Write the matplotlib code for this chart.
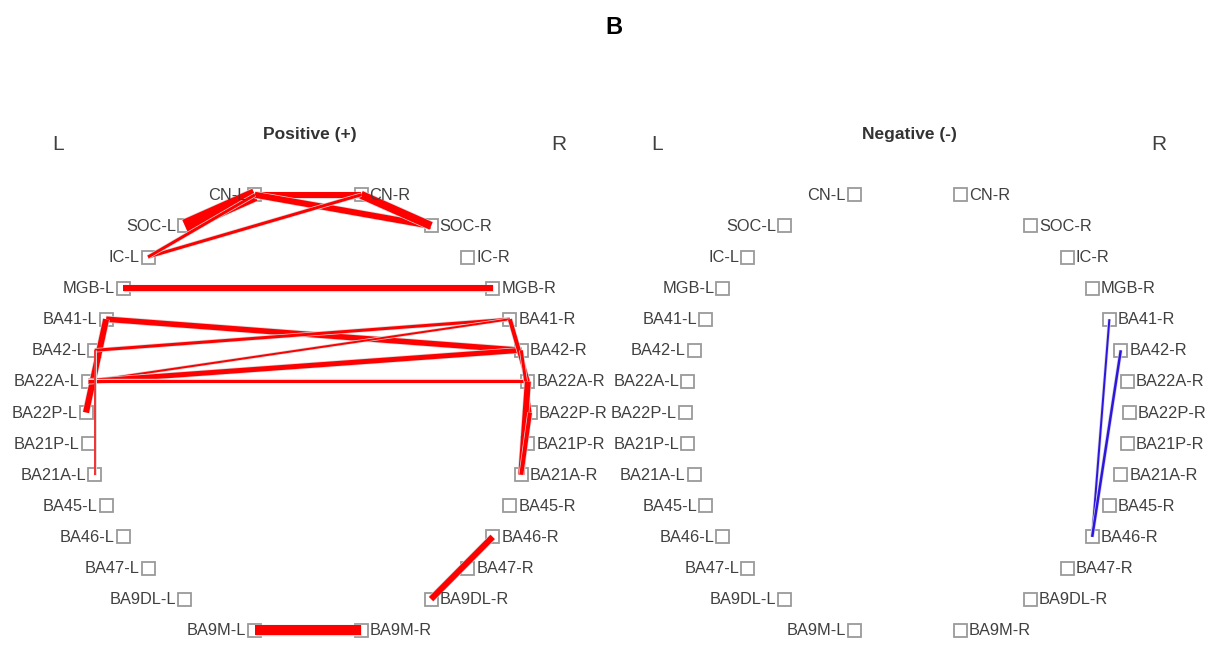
import numpy as np
import matplotlib
matplotlib.use("Agg")
import matplotlib.pyplot as plt
from matplotlib.patches import Rectangle
import matplotlib.patheffects as pe

plt.rcParams['font.family'] = ['Liberation Sans', 'DejaVu Sans']

# Regions, ordered top to bottom on each hemisphere
regions = ["CN", "SOC", "IC", "MGB", "BA41", "BA42", "BA22A", "BA22P",
           "BA21P", "BA21A", "BA45", "BA46", "BA47", "BA9DL", "BA9M"]

panel_titles = ["Positive (+)", "Negative (-)"]

# Connection strengths (node a, node b, strength)
positive_edges = [
    ("CN-L", "SOC-L", 13),
    ("CN-L", "CN-R", 6),
    ("CN-L", "SOC-R", 6),
    ("CN-R", "SOC-R", 8),
    ("CN-R", "IC-L", 3),
    ("CN-L", "IC-L", 3),
    ("MGB-L", "MGB-R", 6),
    ("BA41-L", "BA42-R", 5.5),
    ("BA41-L", "BA22P-L", 6),
    ("BA42-L", "BA41-R", 3),
    ("BA22A-L", "BA41-R", 2),
    ("BA22A-L", "BA42-R", 5),
    ("BA22A-L", "BA22A-R", 3),
    ("BA42-L", "BA21A-L", 1.5),
    ("BA41-R", "BA22A-R", 4),
    ("BA42-R", "BA22P-R", 3),
    ("BA22A-R", "BA21A-R", 6),
    ("BA22P-R", "BA21A-R", 4),
    ("BA46-R", "BA9DL-R", 6),
    ("BA9M-L", "BA9M-R", 10),
]

negative_edges = [
    ("BA41-R", "BA46-R", 2),
    ("BA42-R", "BA46-R", 2.5),
]

W, H = 1224, 653
fig = plt.figure(figsize=(W / 100, H / 100), dpi=100)
ax = fig.add_axes([0, 0, 1, 1])
ax.set_xlim(0, W)
ax.set_ylim(H, 0)
ax.axis("off")

rx, ry = 222, 224.2
step = 31.1
center_y = 412.5
panel_cx = [308, 907.5]
px_to_pt = 72 / 100


def layout(cx):
    pos = {}
    n = len(regions)
    for i, r in enumerate(regions):
        dy = (i - (n - 1) / 2) * step
        dx = rx * np.sqrt(1 - (dy / ry) ** 2)
        pos[r + "-L"] = (cx - dx, center_y + dy)
        pos[r + "-R"] = (cx + dx, center_y + dy)
    return pos


text_color = "#404040"
box = 13

for cx, title, edges, color in zip(panel_cx, panel_titles,
                                   [positive_edges, negative_edges],
                                   ["#ff0000", "#2d17e0"]):
    pos = layout(cx)
    # nodes
    for name, (x, y) in pos.items():
        ax.add_patch(Rectangle((x - box / 2, y - box / 2), box, box,
                               facecolor="white", edgecolor="#9a9a9a",
                               linewidth=1.3, zorder=1))
        if name.endswith("-L"):
            ax.text(x - box / 2 - 2, y + 0.5, name, ha="right", va="center",
                    fontsize=11.8, color=text_color, zorder=3)
        else:
            ax.text(x + box / 2 + 2, y + 0.5, name, ha="left", va="center",
                    fontsize=11.8, color=text_color, zorder=3)
    # connections
    for a, b, s in edges:
        (x0, y0), (x1, y1) = pos[a], pos[b]
        lw = s * px_to_pt
        ax.plot([x0, x1], [y0, y1], color=color, linewidth=lw,
                solid_capstyle="butt", zorder=2,
                path_effects=[pe.Stroke(linewidth=lw + 1.0, foreground="#d8d8d8"),
                              pe.Normal()])
    ax.text(cx + 2, 134, title, ha="center", va="center", fontsize=12.5,
            fontweight="bold", color="#333333")
    ax.text(cx - 250, 145, "L", ha="center", va="center", fontsize=15,
            color=text_color)
    ax.text(cx + 251, 145, "R", ha="center", va="center", fontsize=15,
            color=text_color)

ax.text(W / 2 + 2, 28, "B", ha="center", va="center", fontsize=17,
        fontweight="bold", color="black")

fig.savefig("out.png", dpi=100)
